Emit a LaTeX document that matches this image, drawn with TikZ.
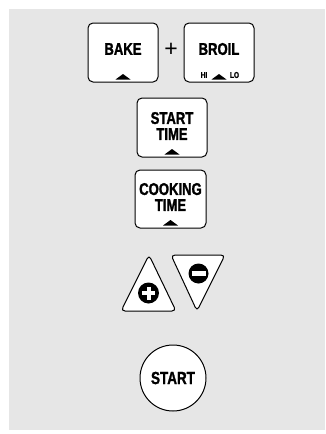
\documentclass[tikz,border=0pt]{standalone}
\usepackage{fontspec}
\newfontfamily\keyfont{Liberation Sans}[FakeStretch=0.77, BoldFeatures={FakeBold=1.4}]
\newfontfamily\signfont{Liberation Sans}
\definecolor{panel}{RGB}{230,230,230}

\begin{document}
\begin{tikzpicture}[
    x=1pt, y=-1pt,
    key/.style={draw, line width=1pt, rounded corners=5pt, fill=white,
      minimum width=70pt, minimum height=59pt, inner sep=0pt},
    keytext/.style={font=\keyfont\bfseries\fontsize{17}{16}\selectfont,
      align=center, inner sep=0pt},
    small/.style={font=\keyfont\bfseries\fontsize{8.5}{9}\selectfont, inner sep=0pt},
    dot/.style={circle, fill=black, minimum size=21pt, inner sep=0pt},
  ]
    \useasboundingbox (0,0) rectangle (325,434);
    \fill[panel] (9,9) rectangle (325,430);

    \node[key] (bake) at (123,52.5) {};
    \node[keytext] at (123,49) {BAKE};
    \node (plus) at (171,50) {\signfont\fontsize{23}{23}\selectfont +};
    \node[key] (broil) at (219,52.5) {};
    \node[keytext] at (219,49) {BROIL};
    \node[small] (hi) at (204,75) {HI};
    \node[small] (lo) at (234.5,75) {LO};

    \node[key] (starttime) at (172,127.5) {};
    \node[keytext] at (172,126) {START\\TIME};
    \node[key, minimum width=71pt, minimum height=58pt] (cookingtime) at (170.5,199) {};
    \node[keytext] at (170.5,197) {COOKING\\TIME};

    % markers on the keys
    \foreach \k in {bake,broil,starttime,cookingtime}
      \fill (\k.south) ++(-7.5,-3) -- ++(15,0) -- ++(-7.5,-5.5) -- cycle;

    % up and down keys
    \draw[line width=1pt, rounded corners=4pt, fill=white]
      (149,255) -- (176,311) -- (121,311) -- cycle;
    \node[dot] (up) at (148.5,293) {};
    \draw[white, line width=4pt] (up.center) ++(-6.5,0) -- ++(13,0)
      (up.center) ++(0,-6.5) -- ++(0,13);
    \draw[line width=1pt, rounded corners=4pt, fill=white]
      (171,255) -- (225,255) -- (197,311) -- cycle;
    \node[dot, minimum size=20pt] (down) at (198.5,273.5) {};
    \draw[white, line width=4.5pt] (down.center) ++(-7,0) -- ++(14,0);

    \node[draw, circle, line width=1pt, fill=white, minimum size=66pt,
      font=\keyfont\bfseries\fontsize{17.5}{17}\selectfont, inner sep=0pt] (start) at (173,378) {START};
\end{tikzpicture}
\end{document}
